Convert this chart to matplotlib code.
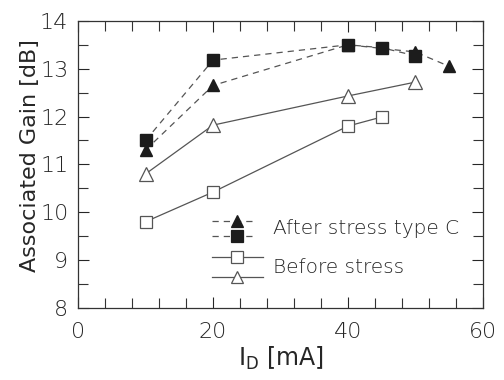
import matplotlib
matplotlib.use('Agg')
import matplotlib.pyplot as plt
from matplotlib.ticker import MultipleLocator

plt.rcParams['font.family'] = 'DejaVu Sans'
plt.rcParams['font.weight'] = 'light'
plt.rcParams['mathtext.fontset'] = 'custom'
plt.rcParams['mathtext.rm'] = 'DejaVu Sans:light'
plt.rcParams['mathtext.default'] = 'regular'

# Drain current [mA] and associated gain [dB]
after_tri_x = [10, 20, 40, 50, 55]
after_tri_y = [11.3, 12.65, 13.5, 13.35, 13.05]
after_sq_x = [10, 20, 40, 45, 50]
after_sq_y = [11.5, 13.18, 13.5, 13.44, 13.27]
before_sq_x = [10, 20, 40, 45]
before_sq_y = [9.8, 10.42, 11.8, 11.99]
before_tri_x = [10, 20, 40, 50]
before_tri_y = [10.8, 11.82, 12.43, 12.72]

line_c = '#555555'
fill_c = '#1c1c1c'
text_c = '#262626'
dash = (0, (5, 4))

fig = plt.figure(figsize=(5.04, 3.8), dpi=100)
ax = fig.add_axes([0.155, 0.19, 0.803, 0.755])

ax.plot(after_tri_x, after_tri_y, color=line_c, lw=0.9, linestyle=dash,
        marker='^', ms=9, mfc=fill_c, mec=fill_c)
ax.plot(after_sq_x, after_sq_y, color=line_c, lw=0.9, linestyle=dash,
        marker='s', ms=9, mfc=fill_c, mec=fill_c)
ax.plot(before_sq_x, before_sq_y, color=line_c, lw=0.9,
        marker='s', ms=9, mfc='white', mec=line_c, mew=0.9)
ax.plot(before_tri_x, before_tri_y, color=line_c, lw=0.9,
        marker='^', ms=10, mfc='white', mec=line_c, mew=0.9)

ax.set_xlim(0, 60)
ax.set_ylim(8, 14)
ax.xaxis.set_major_locator(MultipleLocator(20))
ax.xaxis.set_minor_locator(MultipleLocator(4))
ax.yaxis.set_major_locator(MultipleLocator(1))
ax.yaxis.set_minor_locator(MultipleLocator(0.5))
ax.tick_params(which='both', direction='in', top=True, right=True,
               color='#333333', width=0.8)
ax.tick_params(which='major', length=8, labelsize=16, colors=text_c)
ax.tick_params(axis='x', which='major', pad=10)
ax.tick_params(axis='y', which='major', pad=7)
ax.tick_params(which='minor', length=7)
for s in ax.spines.values():
    s.set_color('#333333')
    s.set_linewidth(0.9)

ax.set_xlabel('I$_D$ [mA]', fontsize=17, color=text_c, labelpad=2)
ax.set_ylabel('Associated Gain [dB]', fontsize=16, color=text_c)
ax.yaxis.set_label_coords(-0.095, 0.53)

# hand-built legend with stacked handles
tr = ax.transAxes
x0, x1, xm = 0.331, 0.432, 0.393
rows = [(0.302, '^', fill_c, dash), (0.249, 's', fill_c, dash),
        (0.176, 's', 'white', '-'), (0.106, '^', 'white', '-')]
for y, m, fc, ls in rows:
    xe = x1 if ls == dash else 0.456
    ax.plot([x0, xe], [y, y], transform=tr, color=line_c, lw=0.9,
            linestyle=ls, clip_on=False)
    ax.plot([xm], [y], transform=tr, marker=m, ms=9, mfc=fc,
            mec=fill_c if fc == fill_c else line_c, mew=0.9, clip_on=False)
ax.text(0.482, 0.275, 'After stress type C', transform=tr, fontsize=14.5,
        color=text_c, va='center')
ax.text(0.482, 0.141, 'Before stress', transform=tr, fontsize=14.5,
        color=text_c, va='center')

fig.savefig('out.png', dpi=100)
